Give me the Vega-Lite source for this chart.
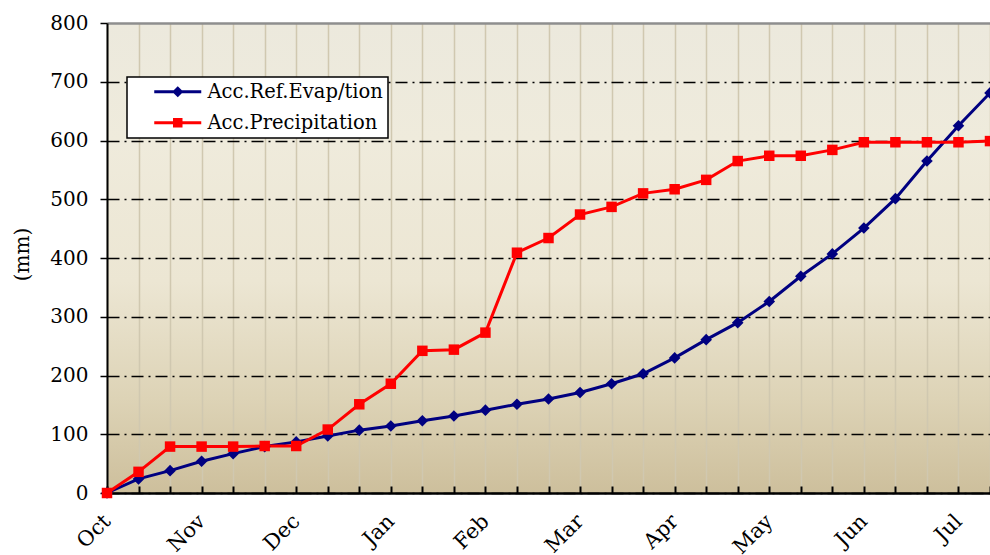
{
  "$schema": "https://vega.github.io/schema/vega-lite/v6.json",
  "autosize": {"type": "none"},
  "width": 883,
  "height": 470,
  "padding": {"left": 107, "top": 23, "right": 0, "bottom": 62},
  "background": "white",
  "view": {
    "fill": {"gradient": "linear", "x1": 0, "y1": 1, "x2": 0, "y2": 0,
      "stops": [
        {"offset": 0, "color": "#CDBF9C"},
        {"offset": 0.2, "color": "#DDD3B6"},
        {"offset": 0.45, "color": "#ECE6D3"},
        {"offset": 0.75, "color": "#EFEBDC"},
        {"offset": 1, "color": "#ECE9DD"}
      ]},
    "stroke": null
  },
  "config": {
    "font": "DejaVu Serif"
  },
  "data": {
    "values": [
      {"d": 0, "s": "Acc.Ref.Evap/tion", "v": 0},
      {"d": 1, "s": "Acc.Ref.Evap/tion", "v": 24},
      {"d": 2, "s": "Acc.Ref.Evap/tion", "v": 38},
      {"d": 3, "s": "Acc.Ref.Evap/tion", "v": 54},
      {"d": 4, "s": "Acc.Ref.Evap/tion", "v": 67},
      {"d": 5, "s": "Acc.Ref.Evap/tion", "v": 79},
      {"d": 6, "s": "Acc.Ref.Evap/tion", "v": 87},
      {"d": 7, "s": "Acc.Ref.Evap/tion", "v": 97},
      {"d": 8, "s": "Acc.Ref.Evap/tion", "v": 107},
      {"d": 9, "s": "Acc.Ref.Evap/tion", "v": 114},
      {"d": 10, "s": "Acc.Ref.Evap/tion", "v": 123},
      {"d": 11, "s": "Acc.Ref.Evap/tion", "v": 131},
      {"d": 12, "s": "Acc.Ref.Evap/tion", "v": 141},
      {"d": 13, "s": "Acc.Ref.Evap/tion", "v": 151},
      {"d": 14, "s": "Acc.Ref.Evap/tion", "v": 160},
      {"d": 15, "s": "Acc.Ref.Evap/tion", "v": 171},
      {"d": 16, "s": "Acc.Ref.Evap/tion", "v": 186},
      {"d": 17, "s": "Acc.Ref.Evap/tion", "v": 203},
      {"d": 18, "s": "Acc.Ref.Evap/tion", "v": 230},
      {"d": 19, "s": "Acc.Ref.Evap/tion", "v": 261},
      {"d": 20, "s": "Acc.Ref.Evap/tion", "v": 290},
      {"d": 21, "s": "Acc.Ref.Evap/tion", "v": 326},
      {"d": 22, "s": "Acc.Ref.Evap/tion", "v": 369},
      {"d": 23, "s": "Acc.Ref.Evap/tion", "v": 407},
      {"d": 24, "s": "Acc.Ref.Evap/tion", "v": 451},
      {"d": 25, "s": "Acc.Ref.Evap/tion", "v": 501},
      {"d": 26, "s": "Acc.Ref.Evap/tion", "v": 565},
      {"d": 27, "s": "Acc.Ref.Evap/tion", "v": 625},
      {"d": 28, "s": "Acc.Ref.Evap/tion", "v": 681},
      {"d": 0, "s": "Acc.Precipitation", "v": 0},
      {"d": 1, "s": "Acc.Precipitation", "v": 36},
      {"d": 2, "s": "Acc.Precipitation", "v": 79},
      {"d": 3, "s": "Acc.Precipitation", "v": 79},
      {"d": 4, "s": "Acc.Precipitation", "v": 79},
      {"d": 5, "s": "Acc.Precipitation", "v": 80},
      {"d": 6, "s": "Acc.Precipitation", "v": 80},
      {"d": 7, "s": "Acc.Precipitation", "v": 108},
      {"d": 8, "s": "Acc.Precipitation", "v": 151},
      {"d": 9, "s": "Acc.Precipitation", "v": 186},
      {"d": 10, "s": "Acc.Precipitation", "v": 242},
      {"d": 11, "s": "Acc.Precipitation", "v": 244},
      {"d": 12, "s": "Acc.Precipitation", "v": 273},
      {"d": 13, "s": "Acc.Precipitation", "v": 409},
      {"d": 14, "s": "Acc.Precipitation", "v": 434},
      {"d": 15, "s": "Acc.Precipitation", "v": 474},
      {"d": 16, "s": "Acc.Precipitation", "v": 487},
      {"d": 17, "s": "Acc.Precipitation", "v": 510},
      {"d": 18, "s": "Acc.Precipitation", "v": 517},
      {"d": 19, "s": "Acc.Precipitation", "v": 533},
      {"d": 20, "s": "Acc.Precipitation", "v": 565},
      {"d": 21, "s": "Acc.Precipitation", "v": 574},
      {"d": 22, "s": "Acc.Precipitation", "v": 574},
      {"d": 23, "s": "Acc.Precipitation", "v": 584},
      {"d": 24, "s": "Acc.Precipitation", "v": 597},
      {"d": 25, "s": "Acc.Precipitation", "v": 597},
      {"d": 26, "s": "Acc.Precipitation", "v": 597},
      {"d": 27, "s": "Acc.Precipitation", "v": 597},
      {"d": 28, "s": "Acc.Precipitation", "v": 599}
    ]
  },
  "encoding": {
    "x": {
      "field": "d", "type": "quantitative",
      "scale": {"domain": [0, 28], "nice": false, "zero": false},
      "axis": {
        "title": null,
        "values": [0,1,2,3,4,5,6,7,8,9,10,11,12,13,14,15,16,17,18,19,20,21,22,23,24,25,26,27,28],
        "labelExpr": "datum.value % 3 === 0 ? ['Oct','Nov','Dec','Jan','Feb','Mar','Apr','May','Jun','Jul'][datum.value / 3] : ''",
        "labelAngle": -45,
        "labelAlign": "right",
        "labelBaseline": "middle",
        "labelFont": "DejaVu Serif",
        "labelFontSize": 21,
        "labelColor": "black",
        "labelPadding": 32,
        "labelOverlap": false,
        "labelFlush": false,
        "tickSize": -7,
        "tickWidth": 2,
        "tickColor": "black",
        "domainColor": "black",
        "domainWidth": 2.5,
        "grid": true,
        "gridColor": "#D0C8B0",
        "gridWidth": 1.5
      }
    },
    "y": {
      "field": "v", "type": "quantitative",
      "scale": {"domain": [0, 800], "nice": false},
      "axis": {
        "title": "(mm)",
        "titleFont": "DejaVu Serif",
        "titleFontSize": 20,
        "titleFontWeight": "normal",
        "titleColor": "black",
        "titleX": -85,
        "titleY": 231,
        "titleAngle": -90,
        "titleAlign": "center",
        "titleBaseline": "middle",
        "values": [0,100,200,300,400,500,600,700,800],
        "labelFont": "DejaVu Serif",
        "labelFontSize": 20,
        "labelColor": "black",
        "labelPadding": 12,
        "tickSize": 7,
        "tickWidth": 1.5,
        "tickColor": "black",
        "domainColor": "black",
        "domainWidth": 2,
        "grid": true,
        "gridColor": {"condition": {"test": "datum.value === 800", "value": "#8E8E8E"}, "value": "black"},
        "gridDash": {"condition": {"test": "datum.value === 800", "value": []}, "value": [12, 5, 2, 5]},
        "gridWidth": {"condition": {"test": "datum.value === 800", "value": 2.5}, "value": 1.5}
      }
    },
    "color": {
      "field": "s", "type": "nominal",
      "scale": {"domain": ["Acc.Ref.Evap/tion", "Acc.Precipitation"], "range": ["#000080", "#FF0000"]},
      "legend": {
        "title": null,
        "orient": "none",
        "legendX": 20,
        "legendY": 54,
        "fillColor": "white",
        "strokeColor": "black",
        "padding": 5,
        "symbolType": "M-4.7,0H4.7M-0.7,0L0,-0.7L0.7,0L0,0.7Z",
        "symbolSize": 100,
        "symbolStrokeWidth": 3,
        "symbolOffset": 36,
        "labelFont": "DejaVu Serif",
        "labelFontSize": 19.5,
        "labelLimit": 400,
        "labelColor": "black",
        "labelOffset": 20,
        "labelExpr": "datum.label + '\u2003\u2003'",
        "rowPadding": 10,
        "encode": {
          "legend": {"update": {"strokeWidth": {"value": 1.5}}},
          "symbols": {"update": {
            "shape": {"signal": "datum.value === 'Acc.Ref.Evap/tion' ? 'M-4.7,0H4.7M-0.7,0L0,-0.7L0.7,0L0,0.7Z' : 'M-4.7,0H4.7M-0.65,-0.65H0.65V0.65H-0.65Z'"},
            "fill": {"signal": "datum.value === 'Acc.Ref.Evap/tion' ? '#000080' : '#FF0000'"},
            "stroke": {"signal": "datum.value === 'Acc.Ref.Evap/tion' ? '#000080' : '#FF0000'"},
            "strokeWidth": {"value": 3},
            "opacity": {"value": 1},
            "fillOpacity": {"value": 1}
          }}
        }
      }
    }
  },
  "layer": [
    {
      "mark": {"type": "line", "strokeWidth": 3}
    },
    {
      "transform": [{"filter": "datum.s === 'Acc.Ref.Evap/tion'"}],
      "mark": {"type": "point", "filled": true, "opacity": 1, "shape": "diamond", "size": 135}
    },
    {
      "transform": [{"filter": "datum.s === 'Acc.Precipitation'"}],
      "mark": {"type": "point", "filled": true, "opacity": 1, "shape": "square", "size": 110}
    }
  ]
}
